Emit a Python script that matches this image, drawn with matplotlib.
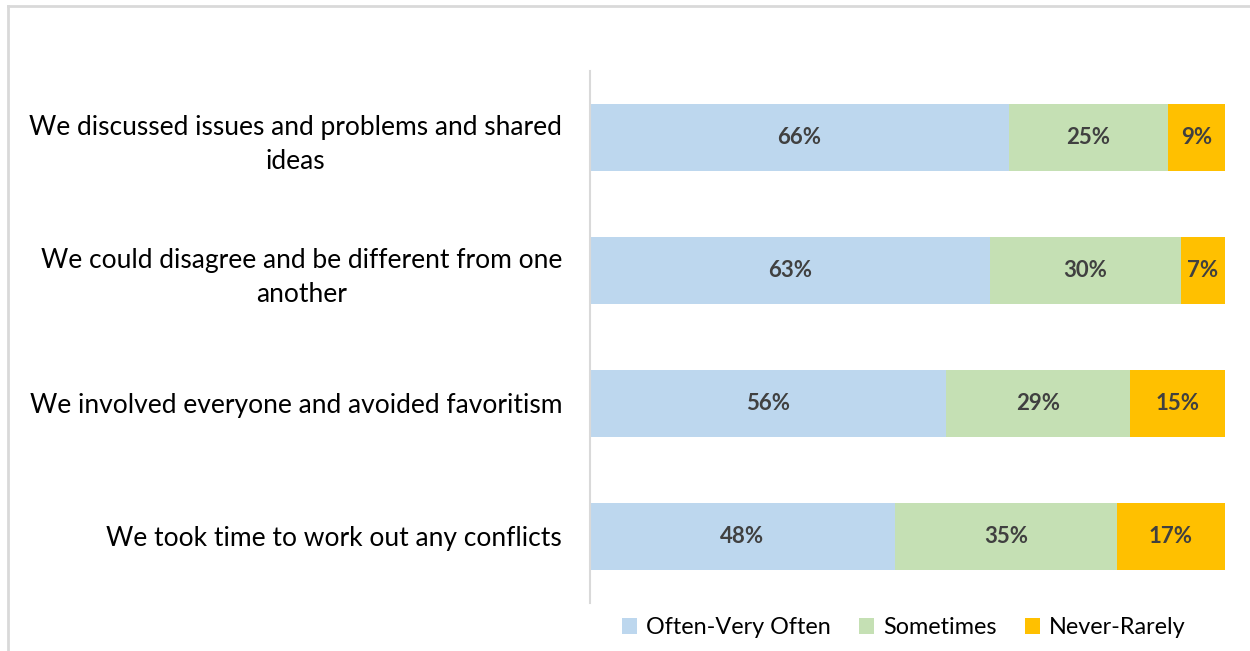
import numpy as np
import matplotlib.pyplot as plt
from matplotlib.lines import Line2D

plt.rcParams['font.family'] = ['Lato', 'DejaVu Sans']

statements = [
    'We discussed issues and problems and shared\nideas',
    'We could disagree and be different from one\nanother',
    'We involved everyone and avoided favoritism',
    'We took time to work out any conflicts',
]
often = [66, 63, 56, 48]
sometimes = [25, 30, 29, 35]
never = [9, 7, 15, 17]

series = ['Often-Very Often', 'Sometimes', 'Never-Rarely']
colors = ['#BDD7EE', '#C5E0B4', '#FFC000']

fig = plt.figure(figsize=(12.5, 6.51), dpi=100)
ax = fig.add_axes([0.472, 0.074, 0.508, 0.817])

y = np.arange(len(statements))
left = np.zeros(len(statements))
for name, vals, col in zip(series, [often, sometimes, never], colors):
    vals = np.array(vals)
    ax.barh(y, vals, left=left, height=0.5, color=col, label=name)
    for yi, l, v in zip(y, left, vals):
        ax.text(l + v / 2, yi, f'{v}%', ha='center', va='center',
                fontsize=16, fontweight='bold', color='#404040')
    left += vals

ax.set_xlim(0, 100)
ax.set_ylim(len(statements) - 0.5, -0.5)
ax.set_yticks(y)
ax.set_yticklabels(statements, fontsize=19, color='#000000',
                   multialignment='center', linespacing=1.45)
ax.tick_params(axis='y', length=0, pad=20)
ax.set_xticks([])
for s in ['top', 'right', 'bottom']:
    ax.spines[s].set_visible(False)
ax.spines['left'].set_color('#D9D9D9')
ax.spines['left'].set_linewidth(1.5)

fig.legend(loc='center', bbox_to_anchor=(0.723, 0.036), ncol=3, frameon=False,
           fontsize=16.8, handlelength=0.65, handleheight=0.65, handletextpad=0.4,
           columnspacing=1.2)

# light frame around the chart area
fig.add_artist(Line2D([0.0064, 1.0], [0.991, 0.991], color='#D9D9D9', lw=2))
fig.add_artist(Line2D([0.0064, 0.0064], [0.0, 0.991], color='#D9D9D9', lw=2))

fig.savefig('out.png', dpi=100)
